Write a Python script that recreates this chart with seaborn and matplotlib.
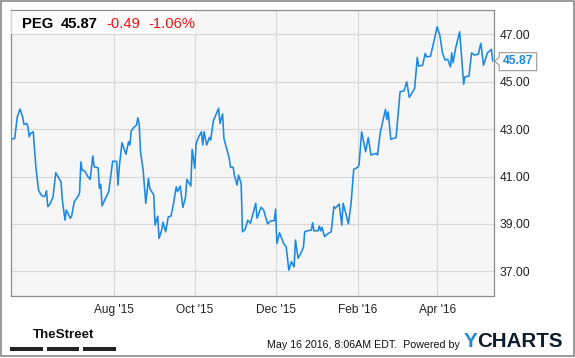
import matplotlib
matplotlib.use("Agg")
import matplotlib.pyplot as plt
from matplotlib.patches import Rectangle, Polygon
import pandas as pd
import seaborn as sns

# ---------------- data ----------------
dates = [
    "2015-05-15", "2015-05-18", "2015-05-20", "2015-05-22", "2015-05-24", "2015-05-25", "2015-05-27", "2015-05-28", "2015-05-29", "2015-05-30",
    "2015-06-01", "2015-06-03", "2015-06-05", "2015-06-07", "2015-06-09", "2015-06-10", "2015-06-11", "2015-06-12", "2015-06-14", "2015-06-16",
    "2015-06-18", "2015-06-20", "2015-06-22", "2015-06-23", "2015-06-25", "2015-06-26", "2015-06-29", "2015-06-30", "2015-07-02", "2015-07-05",
    "2015-07-06", "2015-07-07", "2015-07-08", "2015-07-10", "2015-07-12", "2015-07-14", "2015-07-16", "2015-07-17", "2015-07-20", "2015-07-21",
    "2015-07-22", "2015-07-23", "2015-07-25", "2015-07-28", "2015-07-31", "2015-08-03", "2015-08-04", "2015-08-05", "2015-08-07", "2015-08-10",
    "2015-08-12", "2015-08-13", "2015-08-14", "2015-08-16", "2015-08-18", "2015-08-19", "2015-08-20", "2015-08-21", "2015-08-23", "2015-08-25",
    "2015-08-27", "2015-08-28", "2015-08-31", "2015-09-01", "2015-09-03", "2015-09-04", "2015-09-06", "2015-09-07", "2015-09-09", "2015-09-11",
    "2015-09-13", "2015-09-15", "2015-09-17", "2015-09-18", "2015-09-20", "2015-09-22", "2015-09-24", "2015-09-25", "2015-09-28", "2015-09-29",
    "2015-10-01", "2015-10-02", "2015-10-04", "2015-10-06", "2015-10-07", "2015-10-08", "2015-10-10", "2015-10-12", "2015-10-13", "2015-10-15",
    "2015-10-19", "2015-10-20", "2015-10-22", "2015-10-23", "2015-10-27", "2015-10-28", "2015-10-30", "2015-10-31", "2015-11-02", "2015-11-03",
    "2015-11-05", "2015-11-06", "2015-11-08", "2015-11-10", "2015-11-12", "2015-11-16", "2015-11-17", "2015-11-20", "2015-11-22", "2015-11-25",
    "2015-11-27", "2015-11-30", "2015-12-01", "2015-12-02", "2015-12-04", "2015-12-07", "2015-12-09", "2015-12-11", "2015-12-13", "2015-12-15",
    "2015-12-16", "2015-12-18", "2015-12-20", "2015-12-22", "2015-12-23", "2015-12-25", "2015-12-28", "2015-12-29", "2015-12-30", "2016-01-02",
    "2016-01-03", "2016-01-04", "2016-01-05", "2016-01-07", "2016-01-09", "2016-01-12", "2016-01-14", "2016-01-15", "2016-01-18", "2016-01-20",
    "2016-01-21", "2016-01-23", "2016-01-25", "2016-01-27", "2016-01-29", "2016-02-01", "2016-02-02", "2016-02-04", "2016-02-07", "2016-02-09",
    "2016-02-11", "2016-02-15", "2016-02-16", "2016-02-18", "2016-02-22", "2016-02-23", "2016-02-24", "2016-02-26", "2016-03-01", "2016-03-04",
    "2016-03-07", "2016-03-09", "2016-03-11", "2016-03-15", "2016-03-17", "2016-03-18", "2016-03-21", "2016-03-23", "2016-03-24", "2016-03-27",
    "2016-03-29", "2016-04-01", "2016-04-03", "2016-04-05", "2016-04-07", "2016-04-09", "2016-04-11", "2016-04-12", "2016-04-13", "2016-04-15",
    "2016-04-18", "2016-04-21", "2016-04-22", "2016-04-25", "2016-04-27", "2016-04-29", "2016-05-02", "2016-05-04", "2016-05-06", "2016-05-09",
    "2016-05-12", "2016-05-13",
]
prices = [
    42.57, 42.61, 43.52, 43.85, 43.52, 43.20, 43.24, 43.10, 42.68, 42.82,
    42.89, 41.41, 40.43, 40.22, 40.15, 40.18, 40.40, 39.73, 39.87, 40.15,
    41.16, 40.97, 40.78, 40.01, 39.16, 39.59, 39.24, 39.33, 39.94, 40.18,
    40.32, 41.62, 41.27, 41.23, 41.02, 40.88, 41.87, 41.41, 41.37, 40.50,
    40.68, 39.76, 40.01, 40.36, 41.65, 41.64, 40.64, 41.41, 42.43, 41.94,
    42.47, 42.33, 42.92, 43.08, 43.17, 43.48, 43.24, 42.05, 41.27, 39.87,
    40.92, 40.50, 40.22, 38.95, 39.33, 38.39, 38.74, 39.07, 38.67, 39.30,
    39.33, 39.87, 40.57, 40.36, 40.60, 39.70, 40.12, 40.88, 40.60, 42.15,
    41.35, 42.40, 42.68, 42.89, 42.33, 42.89, 42.33, 42.65, 42.54, 43.35,
    43.88, 43.24, 43.64, 42.61, 41.77, 41.39, 41.39, 41.02, 40.64, 41.06,
    40.71, 38.67, 38.77, 39.16, 39.03, 39.87, 39.24, 39.70, 39.59, 39.00,
    39.12, 39.14, 39.62, 38.18, 38.63, 38.18, 38.04, 37.05, 37.41, 37.19,
    38.32, 37.55, 37.76, 38.01, 38.67, 38.71, 38.74, 39.05, 38.71, 38.71,
    38.91, 38.71, 38.86, 38.46, 38.57, 38.67, 39.73, 39.66, 39.84, 38.95,
    39.87, 39.45, 39.00, 39.87, 41.30, 41.39, 41.49, 42.89, 42.05, 42.65,
    41.91, 41.98, 41.91, 42.85, 43.84, 43.41, 43.73, 42.57, 42.65, 44.58,
    44.62, 45.00, 44.34, 44.72, 46.03, 45.66, 45.70, 46.20, 46.05, 46.08,
    46.58, 47.32, 46.97, 46.22, 45.92, 45.95, 45.63, 46.22, 45.80, 46.43,
    47.11, 44.90, 45.21, 45.24, 46.22, 46.13, 46.16, 46.62, 45.70, 46.22,
    46.37, 45.87,
]
ticker = "PEG"
last_price = "45.87"
change = "-0.49"
change_pct = "-1.06%"
y_ticks = [37, 39, 41, 43, 45, 47]
y_tick_labels = ["37.00", "39.00", "41.00", "43.00", "45.00", "47.00"]
x_ticks = ["2015-08-01", "2015-10-01", "2015-12-01", "2016-02-01", "2016-04-01"]
x_tick_labels = ["Aug '15", "Oct '15", "Dec '15", "Feb '16", "Apr '16"]
timestamp = "May 16 2016, 8:06AM EDT.  Powered by"

# ---------------- style ----------------
sns.set_theme(style="white")
plt.rcParams["font.family"] = ["Liberation Sans", "DejaVu Sans"]

W, H = 575, 358
fig = plt.figure(figsize=(W / 100, H / 100), dpi=100)
fig.patch.set_facecolor("white")


def fx(x):
    return x / W


def fy(y):
    return 1 - y / H


L, R, T, B = 10.7, 494.0, 10.0, 295.5
ax = fig.add_axes([fx(L), fy(B), fx(R) - fx(L), fy(T) - fy(B)])
ax.set_facecolor("#f6f6f6")

df = pd.DataFrame({"date": pd.to_datetime(dates), "price": prices})
line_color = "#1b88e2"
sns.lineplot(data=df, x="date", y="price", ax=ax, color=line_color,
             linewidth=1.15, estimator=None, sort=False)

x0 = pd.Timestamp("2015-05-15")
x1 = pd.Timestamp("2016-05-13") + pd.Timedelta(hours=22)
ax.set_xlim(x0, x1)
ax.set_ylim(35.98, 48.03)

ax.set_yticks(y_ticks)
ax.set_yticklabels(y_tick_labels)
ax.set_xticks(pd.to_datetime(x_ticks))
ax.set_xticklabels(x_tick_labels)
ax.yaxis.tick_right()
ax.tick_params(axis="y", length=0, pad=4.2, labelsize=8.7, labelcolor="#222222")
ax.tick_params(axis="x", length=0, pad=6.0, labelsize=8.6, labelcolor="#222222")
ax.set_xlabel("")
ax.set_ylabel("")
ax.grid(True, color="#d6d6d6", linewidth=0.8)
ax.set_axisbelow(True)
for s in ax.spines.values():
    s.set_visible(True)
    s.set_color("#8c8c8c")
    s.set_linewidth(0.9)

# header box
fig.patches.append(Rectangle((fx(L + 0.5), fy(34.0)), fx(196) - fx(L + 0.5), fy(10.6) - fy(34.0),
                             transform=fig.transFigure, facecolor="white", alpha=0.65,
                             edgecolor="none", zorder=5))
hy = fy(23.8)
fig.text(fx(22), hy, ticker, fontsize=10.6, fontweight="bold", color="black", va="center", ha="left", zorder=6)
fig.text(fx(61), hy, last_price, fontsize=10.6, fontweight="bold", color="black", va="center", ha="left", zorder=6)
fig.text(fx(106), hy, change, fontsize=10.6, color="#ee1111", va="center", ha="left", zorder=6)
fig.text(fx(148), hy, change_pct, fontsize=10.6, color="#ee1111", va="center", ha="left", zorder=6)

# last value callout
bx0, bx1, by0, by1 = 499.3, 536.7, 52.7, 70.7
my = 61.2
callout = Polygon([(fx(494.5), fy(my)), (fx(bx0), fy(my - 4)), (fx(bx0), fy(by0)),
                   (fx(bx1), fy(by0)), (fx(bx1), fy(by1)), (fx(bx0), fy(by1)),
                   (fx(bx0), fy(my + 4))], closed=True, transform=fig.transFigure,
                  facecolor="white", edgecolor="#9a9a9a", linewidth=0.8, zorder=6)
fig.patches.append(callout)
fig.text(fx((bx0 + bx1) / 2 + 0.5), fy(my + 0.3), last_price, fontsize=8.7, fontweight="bold",
         color=line_color, va="center", ha="center", zorder=7)

# footer
fig.text(fx(63.3), fy(335.5), "TheStreet", fontsize=9.6, fontweight="bold",
         color="#111111", va="center", ha="center")
for a, b in [(10, 42.7), (46.7, 79), (83.3, 116)]:
    fig.patches.append(Rectangle((fx(a), fy(350.7)), fx(b) - fx(a), fy(347.3) - fy(350.7),
                                 transform=fig.transFigure, facecolor="#222222", edgecolor="none"))
fig.text(fx(459.5), fy(345.0), timestamp, fontsize=7.7, color="#111111", va="center", ha="right")
fig.text(fx(463.3), fy(341.3), "Y", fontsize=14.8, fontweight="bold", color="#1a8ae0",
         va="center", ha="left")
fig.text(fx(477.3), fy(341.3), "CHARTS", fontsize=14.8, fontweight="bold", color="#0e1c2b",
         va="center", ha="left")

# outer frame
fig.patches.append(Rectangle((fx(0.8), fy(356.0)), fx(573.5) - fx(0.8), fy(0.8) - fy(356.0),
                             transform=fig.transFigure, facecolor="none",
                             edgecolor="#8a8a8a", linewidth=1.2))

fig.savefig("out.png", dpi=100, facecolor="white")
